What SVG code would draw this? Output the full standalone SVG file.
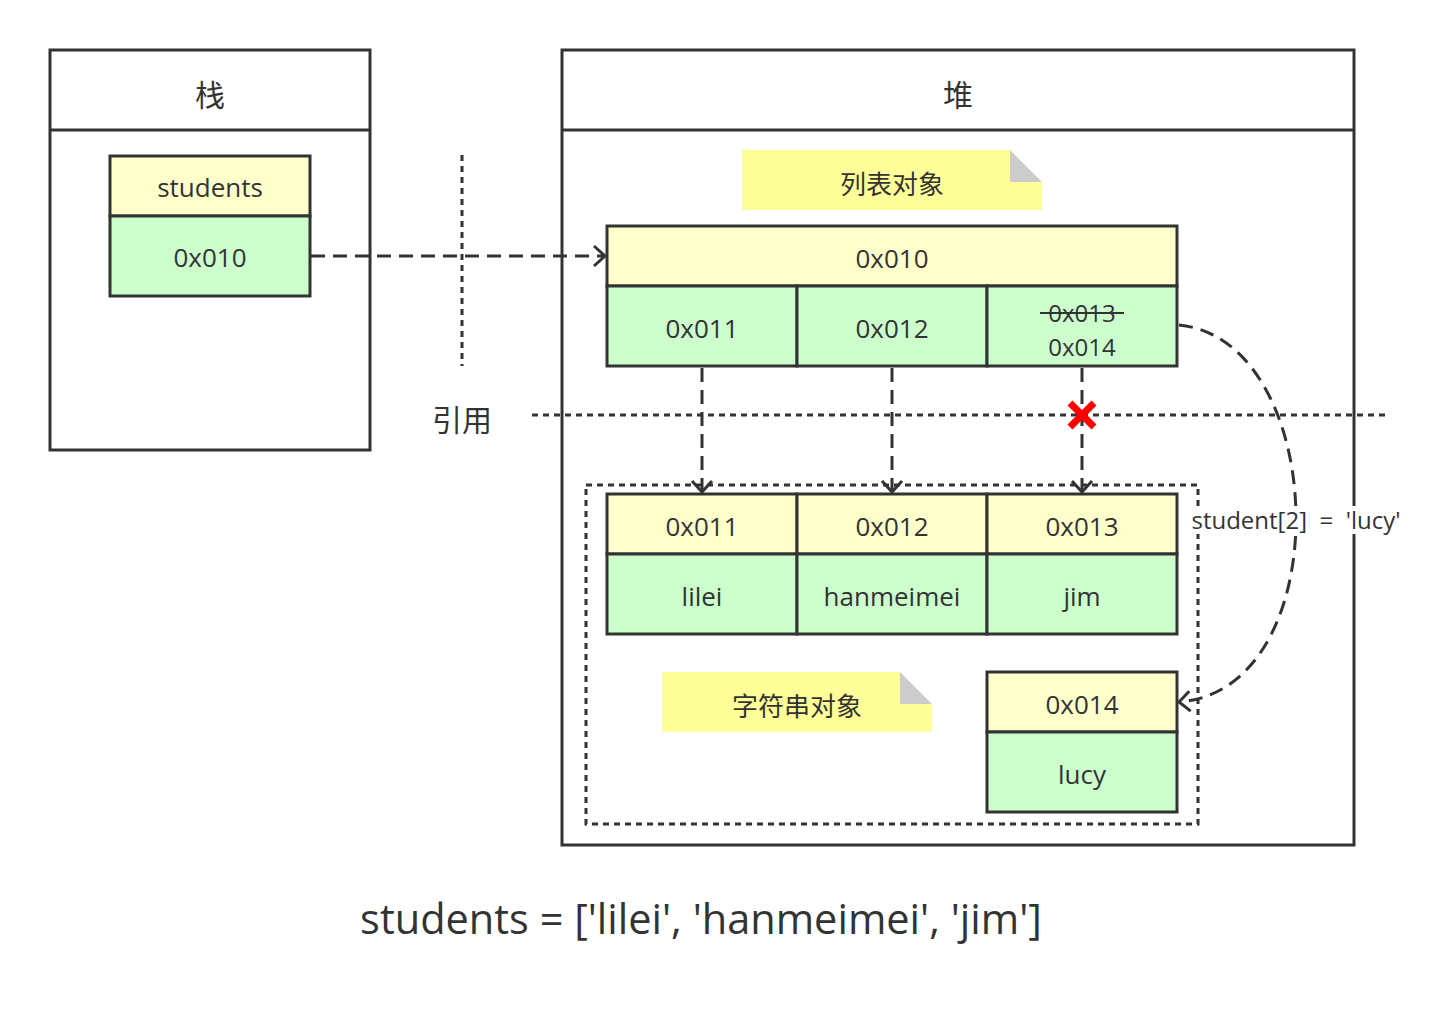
<svg xmlns="http://www.w3.org/2000/svg" width="1439" height="1010" viewBox="0 0 1439 1010">
<defs>
<style>
.box{fill:#fff;stroke:#333;stroke-width:3}
.y{fill:#ffffcc;stroke:#333;stroke-width:3}
.g{fill:#ccffcc;stroke:#333;stroke-width:3}
.ln{stroke:#333;stroke-width:3;fill:none}
.dash{stroke:#333;stroke-width:3;fill:none;stroke-dasharray:14 8}
.dot{stroke:#333;stroke-width:3;fill:none;stroke-dasharray:6 5}
text{font-family:"Open Sans","Noto Sans CJK SC",sans-serif;fill:#333;text-anchor:middle;dominant-baseline:central}
.t{font-size:26px}
.c{font-family:"Noto Sans CJK SC",sans-serif;font-size:30px}
.n{font-family:"Noto Sans CJK SC",sans-serif;font-size:26px}
.note{fill:#ffff99}
.fold{fill:#cccccc}
</style>
<marker id="arr" viewBox="0 0 24 24" refX="20" refY="12" markerWidth="24" markerHeight="24" markerUnits="userSpaceOnUse" orient="auto">
<path d="M9,2 L20,12 L9,22" fill="none" stroke="#333" stroke-width="3"/>
</marker>
</defs>
<rect width="1439" height="1010" fill="#fff"/>

<g id="stack">
<rect class="box" x="50" y="50" width="320" height="400"/>
<line class="ln" x1="50" y1="130" x2="370" y2="130"/>
<text class="c" x="210" y="93">栈</text>
</g>
<g id="students">
<rect class="y" x="110" y="156" width="200" height="60"/>
<rect class="g" x="110" y="216" width="200" height="80"/>
<text class="t" x="210" y="187">students</text>
<text class="t" x="210" y="257">0x010</text>
</g>

<g id="heap">
<rect class="box" x="562" y="50" width="792" height="795"/>
<line class="ln" x1="562" y1="130" x2="1354" y2="130"/>
<text class="c" x="958" y="93">堆</text>
</g>

<g id="note-list">
<path class="note" d="M742,150 H1010 L1042,182 V210 H742 Z"/>
<path class="fold" d="M1010,150 L1042,182 H1010 Z"/>
<text class="n" x="892" y="182">列表对象</text>
</g>

<g id="string-group">
<rect class="dot" x="586" y="485" width="612" height="339"/>
</g>

<g id="list-object">
<rect class="y" x="607" y="226" width="570" height="60"/>
<rect class="g" x="607" y="286" width="190" height="80"/>
<rect class="g" x="797" y="286" width="190" height="80"/>
<rect class="g" x="987" y="286" width="190" height="80"/>
<text class="t" x="892" y="258">0x010</text>
<text class="t" x="702" y="328">0x011</text>
<text class="t" x="892" y="328">0x012</text>
<text class="t" x="1082" y="312" style="font-size:24px">0x013</text>
<line x1="1040" y1="313" x2="1124" y2="313" stroke="#333" stroke-width="2"/>
<text class="t" x="1082" y="346" style="font-size:24px">0x014</text>
</g>

<g id="strings">
<rect class="y" x="607" y="494" width="190" height="60"/>
<rect class="y" x="797" y="494" width="190" height="60"/>
<rect class="y" x="987" y="494" width="190" height="60"/>
<rect class="g" x="607" y="554" width="190" height="80"/>
<rect class="g" x="797" y="554" width="190" height="80"/>
<rect class="g" x="987" y="554" width="190" height="80"/>
<text class="t" x="702" y="526">0x011</text>
<text class="t" x="892" y="526">0x012</text>
<text class="t" x="1082" y="526">0x013</text>
<text class="t" x="702" y="596">lilei</text>
<text class="t" x="892" y="596">hanmeimei</text>
<text class="t" x="1082" y="596">jim</text>
</g>

<g id="note-string">
<path class="note" d="M662,672 H900 L932,704 V732 H662 Z"/>
<path class="fold" d="M900,672 L932,704 H900 Z"/>
<text class="n" x="797" y="704">字符串对象</text>
</g>

<g id="lucy">
<rect class="y" x="987" y="672" width="190" height="60"/>
<rect class="g" x="987" y="732" width="190" height="80"/>
<text class="t" x="1082" y="704">0x014</text>
<text class="t" x="1082" y="774">lucy</text>
</g>

<g id="connectors">
<line class="dot" x1="462" y1="155" x2="462" y2="366"/>
<line class="dot" x1="532" y1="415" x2="1390" y2="415"/>
<line class="dash" x1="311" y1="256" x2="605" y2="256" marker-end="url(#arr)"/>
<line class="dash" x1="702" y1="368" x2="702" y2="492" marker-end="url(#arr)"/>
<line class="dash" x1="892" y1="368" x2="892" y2="492" marker-end="url(#arr)"/>
<line class="dash" x1="1082" y1="368" x2="1082" y2="492" marker-end="url(#arr)"/>
<path class="dash" d="M1179,325 C1330,340 1340,690 1179,702" marker-end="url(#arr)"/>
<rect x="1184" y="506" width="224" height="28" fill="#fff"/>
<text x="1296" y="519" style="font-size:24px" xml:space="preserve">student[2]  =  'lucy'</text>
<path d="M1070,403 L1094,427 M1094,403 L1070,427" stroke="#ff0000" stroke-width="7"/>
</g>

<text class="c" x="462" y="418">引用</text>
<text x="701" y="918" style="font-size:41.5px">students = ['lilei', 'hanmeimei', 'jim']</text>
</svg>
